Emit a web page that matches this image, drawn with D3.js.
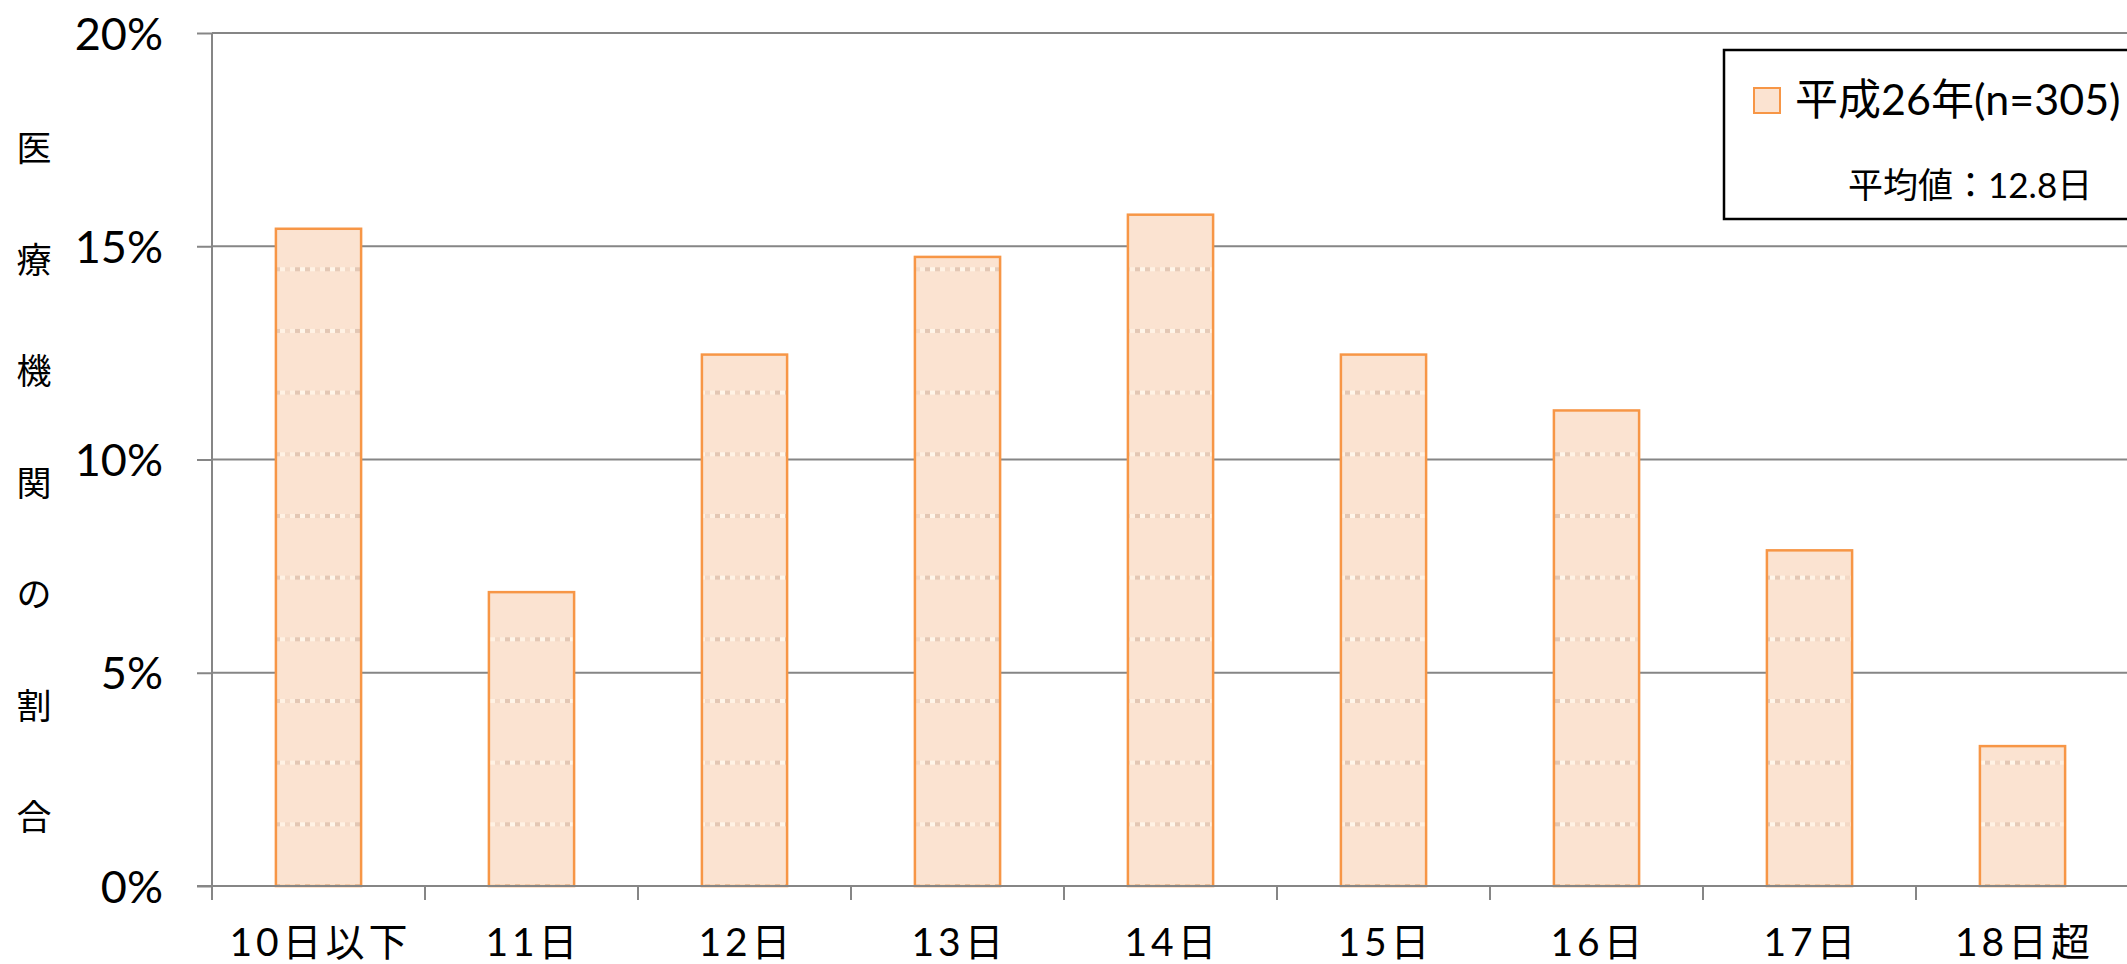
<!DOCTYPE html>
<html><head><meta charset="utf-8">
<script src="https://cdn.jsdelivr.net/npm/d3@7/dist/d3.min.js"></script>
<style>
html,body{margin:0;padding:0;background:#fff;overflow:hidden;}
svg{display:block;}
</style></head>
<body>
<script>
const categories = ["10日以下","11日","12日","13日","14日","15日","16日","17日","18日超"];
const shares = [0.1541,0.0689,0.1246,0.1475,0.1574,0.1246,0.1115,0.0787,0.0328];
const yTicks = [0,0.05,0.10,0.15,0.20];
const yTickLabels = ["0%","5%","10%","15%","20%"];
const yTitle = ["医","療","機","関","の","割","合"];
const legendLabel = "平成26年(n=305)";
const legendNote = "平均値：";
const legendMean = "12.8日";

(function(){
const W = 2127, H = 964;
const pLeft = 212, pBottom = 886, pTop = 33;
const svg = d3.select("body").append("svg").attr("width", W).attr("height", H);

const x = d3.scaleBand().domain(categories).range([pLeft, pLeft + 213*9]).paddingInner(0.6).paddingOuter(0.3);
const y = d3.scaleLinear().domain([0, 0.2]).range([pBottom, pTop]);

// pattern
const defs = svg.append("defs");
const ph = (y(0) - y(0.05)) * 61.6 / 213;
const pat = defs.append("pattern").attr("id","dots").attr("patternUnits","userSpaceOnUse")
  .attr("width", 30).attr("height", ph).attr("patternTransform","translate(0,"+(pBottom-2)+")");
pat.append("rect").attr("width",30).attr("height",ph).attr("fill","#FBE3D1");
const dotCols = ["#FFF6EA","#E6CBB8","#FFF2E4","#F3D9C6","#FEEFE0","#E3C7B4"];
dotCols.forEach((c,i)=>{ pat.append("rect").attr("x", i*5).attr("y",0).attr("width",5).attr("height",4).attr("fill",c); });

// gridlines
svg.append("g").selectAll("line").data(yTicks.slice(1)).join("line")
  .attr("x1", pLeft).attr("x2", W).attr("y1", d=>y(d)).attr("y2", d=>y(d))
  .attr("stroke","#868686").attr("stroke-width",2);

// bars
svg.append("g").selectAll("rect").data(shares).join("rect")
  .attr("x", (d,i)=>x(categories[i]))
  .attr("y", d=>y(d))
  .attr("width", x.bandwidth())
  .attr("height", d=>y(0)-y(d))
  .attr("fill","url(#dots)")
  .attr("stroke","#F79646").attr("stroke-width",2.5);

// y axis
const yAxis = d3.axisLeft(y).tickValues(yTicks).tickFormat((d,i)=>yTickLabels[i]).tickSize(15).tickPadding(34);
const ya = svg.append("g").attr("transform",`translate(${pLeft},0)`).call(yAxis);
ya.select(".domain").attr("stroke","#868686").attr("stroke-width",2).attr("d",`M0,${pTop}V${pBottom+14}`);
ya.selectAll(".tick line").attr("stroke","#868686").attr("stroke-width",2);
ya.selectAll(".tick text").attr("fill","#000").style("font-family","Lato, 'Noto Sans CJK JP', sans-serif").style("font-size","45px").attr("dy","0.36em");

// x axis
const xb = d3.scaleLinear().domain([0,9]).range([pLeft, pLeft+213*9]);
const xa = svg.append("g");
xa.append("line").attr("x1", pLeft-15).attr("x2", W).attr("y1", pBottom).attr("y2", pBottom).attr("stroke","#868686").attr("stroke-width",2);
xa.selectAll("line.t").data(d3.range(0,10)).join("line").attr("class","t")
  .attr("x1", d=>xb(d)).attr("x2", d=>xb(d)).attr("y1", pBottom).attr("y2", pBottom+14)
  .attr("stroke","#868686").attr("stroke-width",2);
xa.selectAll("text").data(categories).join("text")
  .attr("x", d=>x(d)+x.bandwidth()/2 + 2).attr("y", 956)
  .attr("text-anchor","middle").attr("fill","#000")
  .style("font-family","Lato, 'Noto Sans CJK JP', sans-serif").style("font-size","39px")
  .style("letter-spacing","4px")
  .text(d=>d);

// y title
svg.append("g").selectAll("text").data(yTitle).join("text")
  .attr("x", 34).attr("y", (d,i)=> 149 + i*111.5).attr("dy","0.35em")
  .attr("text-anchor","middle").attr("fill","#000")
  .style("font-family","'Noto Sans CJK JP', sans-serif").style("font-size","35px")
  .text(d=>d);

// legend
const lg = svg.append("g");
lg.append("rect").attr("x",1724).attr("y",50).attr("width",420).attr("height",169)
  .attr("fill","#fff").attr("stroke","#000").attr("stroke-width",2.5);
lg.append("rect").attr("x",1754).attr("y",88).attr("width",26).attr("height",25)
  .attr("fill","#FBE3D1").attr("stroke","#F79646").attr("stroke-width",2);
lg.append("text").attr("x",1795).attr("y",115).attr("fill","#000")
  .style("font-family","Lato, 'Noto Sans CJK JP', sans-serif").style("font-size","43px")
  .text(legendLabel);
const lt = lg.append("text").attr("x",1848).attr("y",198).attr("fill","#000")
  .style("font-family","'Noto Sans CJK JP', sans-serif").style("font-size","35px");
lt.append("tspan").text(legendNote);
lt.append("tspan").style("font-family","Lato, 'Noto Sans CJK JP', sans-serif").text(legendMean);
})();
</script>
</body></html>
